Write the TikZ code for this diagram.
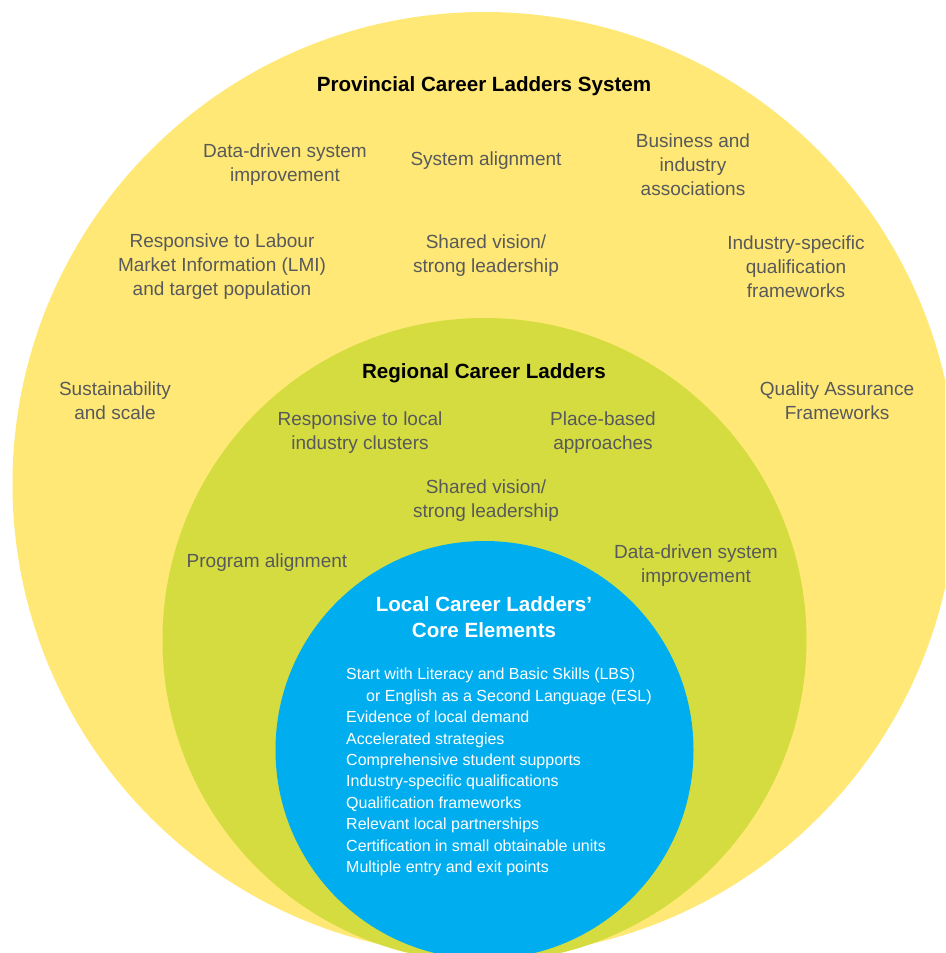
\documentclass[tikz,border=0pt]{standalone}
\usepackage{fontspec}
\setmainfont{Liberation Sans}
\definecolor{provyellow}{RGB}{255,232,117}
\definecolor{reggreen}{RGB}{212,220,64}
\definecolor{localblue}{RGB}{0,174,239}
\definecolor{labelgray}{RGB}{88,89,91}

\tikzset{
  item/.style={text=labelgray, align=center, inner sep=0pt, font=\fontsize{19}{24}\selectfont},
  head/.style={align=center, inner sep=0pt, font=\fontsize{20.6}{26}\selectfont\bfseries},
  core/.style={text=white, align=left, inner sep=0pt, font=\fontsize{16}{21.4}\selectfont}
}

\begin{document}
\begin{tikzpicture}[x=1pt,y=-1pt]
\useasboundingbox (0,0) rectangle (945,953);

% three nested levels
\begin{scope}
 \clip (0,0) rectangle (945,953);
 \fill[provyellow] (484.5,484) circle [radius=472];
 \fill[reggreen] (484.5,640) circle [radius=322];
 \fill[localblue] (484.5,750) circle [radius=209];
\end{scope}

% provincial level
\node[head] (prov) at (484,86) {Provincial Career Ladders System};
\node[item] (provdata) at (285,165) {Data-driven system\\improvement};
\node[item] (provalign) at (486,161) {System alignment};
\node[item] (provbiz) at (693,165) {Business and\\industry\\associations};
\node[item] (provlmi) at (222,267) {Responsive to Labour\\Market Information (LMI)\\and target population};
\node[item] (provvision) at (486,256) {Shared vision/\\strong leadership};
\node[item] (provind) at (796,267) {Industry-specific\\qualification\\frameworks};
\node[item] (provsust) at (115,401) {Sustainability\\and scale};
\node[item] (provqa) at (837,401) {Quality Assurance\\Frameworks};

% regional level
\node[head] (reg) at (484,373) {Regional Career Ladders};
\node[item] (regclust) at (360,433) {Responsive to local\\industry clusters};
\node[item] (regplace) at (603,433) {Place-based\\approaches};
\node[item] (regvision) at (486,501) {Shared vision/\\strong leadership};
\node[item] (regprog) at (267,563) {Program alignment};
\node[item] (regdata) at (696,566) {Data-driven system\\improvement};

% local level
\node[head, text=white] (local) at (484,617) {Local Career Ladders’\\Core Elements};
\node[core, anchor=north west] (corelist) at (346,668) {Start with Literacy and Basic Skills (LBS)\\
\hspace*{20pt}or English as a Second Language (ESL)\\
Evidence of local demand\\
Accelerated strategies\\
Comprehensive student supports\\
Industry-specific qualifications\\
Qualification frameworks\\
Relevant local partnerships\\
Certification in small obtainable units\\
Multiple entry and exit points};
\end{tikzpicture}
\end{document}
